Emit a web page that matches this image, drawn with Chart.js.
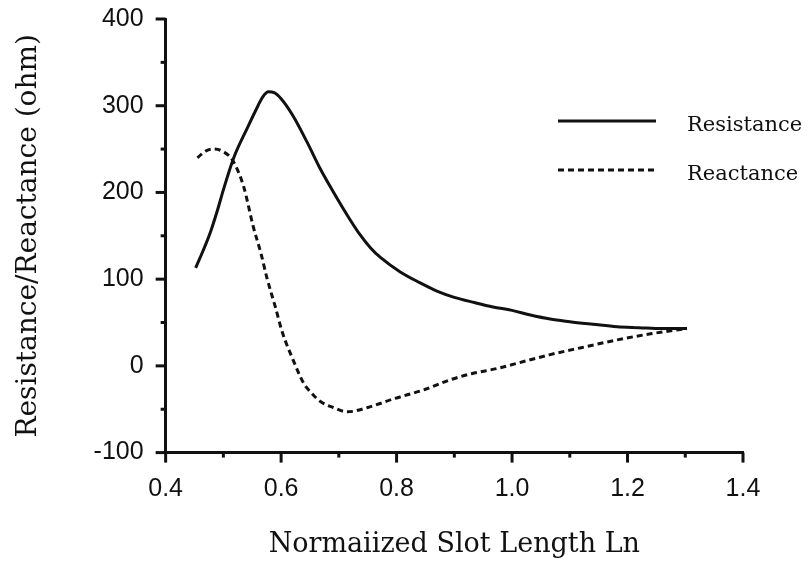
<!DOCTYPE html>
<html>
<head>
<meta charset="utf-8">
<script src="https://cdn.jsdelivr.net/npm/chart.js@4.4.1/dist/chart.umd.min.js"></script>
<style>
  html, body { margin: 0; padding: 0; background: #fff; }
  #wrap { width: 808px; height: 567px; position: relative; }
</style>
</head>
<body>
<div id="wrap"><canvas id="chart_slotImpedance"></canvas></div>
<script>
// values
var resistanceX = [0.452, 0.465, 0.478, 0.49, 0.50, 0.518, 0.542, 0.56, 0.568, 0.578, 0.588, 0.60, 0.62, 0.645, 0.668, 0.691, 0.72, 0.737, 0.755, 0.772, 0.807, 0.84, 0.871, 0.90, 0.935, 0.967, 1.0, 1.03, 1.066, 1.10, 1.14, 1.182, 1.22, 1.26, 1.303];
var resistanceY = [113, 133, 155, 180, 203, 240, 275, 300, 310, 316, 315, 308, 289, 258, 227, 200, 168, 151, 136, 125, 108, 96, 86, 79, 73, 68, 64, 59, 54, 51, 48, 45, 44, 43, 43];

var reactanceX = [0.455, 0.47, 0.483, 0.50, 0.516, 0.535, 0.552, 0.565, 0.576, 0.59, 0.602, 0.622, 0.639, 0.655, 0.668, 0.69, 0.715, 0.75, 0.795, 0.85, 0.893, 0.93, 0.974, 1.02, 1.066, 1.12, 1.182, 1.24, 1.303];
var reactanceY = [240, 248, 250, 247, 237, 207, 160, 130, 100, 68, 39, 5, -20, -33, -41, -48, -53, -48, -38, -27, -16, -9, -3, 5, 13, 21, 30, 37, 43];

var xTicksMajor = [0.4, 0.6, 0.8, 1.0, 1.2, 1.4];
var xTicksMinor = [0.5, 0.7, 0.9, 1.1, 1.3];
var yTicksMajor = [-100, 0, 100, 200, 300, 400];
var yTicksMinor = [-50, 50, 150, 250, 350];

var seriesLabels = ['Resistance', 'Reactance'];

function toPoints(xs, ys) {
    return xs.map(function (x, i) { return { x: x, y: ys[i] }; });
}

var serifFont = '"DejaVu Serif", "Liberation Serif", serif';
var sansFont = '"Liberation Sans", Arial, sans-serif';

var chart_slotImpedance = new Chart(document.getElementById('chart_slotImpedance'), {
    type: 'line',
    data: {
        datasets: [
            {
                label: seriesLabels[0],
                data: toPoints(resistanceX, resistanceY),
                borderColor: '#111',
                borderWidth: 3,
                pointRadius: 0,
                cubicInterpolationMode: 'monotone',
                fill: false
            },
            {
                label: seriesLabels[1],
                data: toPoints(reactanceX, reactanceY),
                borderColor: '#111',
                borderWidth: 3,
                borderDash: [6, 4],
                pointRadius: 0,
                cubicInterpolationMode: 'monotone',
                fill: false
            }
        ]
    },
    options: {
        animation: false,
        responsive: true,
        maintainAspectRatio: false,
        layout: {
            padding: { left: 10, right: 65, top: 19, bottom: 4 }
        },
        plugins: {
            legend: { display: false },
            tooltip: { enabled: false }
        },
        scales: {
            x: {
                type: 'linear',
                min: 0.4,
                max: 1.4,
                border: { color: '#111', width: 3 },
                grid: { drawOnChartArea: false, drawTicks: false },
                ticks: {
                    stepSize: 0.2,
                    padding: 22,
                    color: '#111',
                    font: { family: sansFont, size: 25 },
                    callback: function (v) { return v.toFixed(1); }
                },
                title: {
                    display: true,
                    text: 'Normaiized Slot Length Ln',
                    color: '#111',
                    font: { family: serifFont, size: 27 },
                    padding: { top: 2, bottom: 2 }
                }
            },
            y: {
                min: -100,
                max: 400,
                border: { color: '#111', width: 3 },
                grid: { drawOnChartArea: false, drawTicks: false },
                ticks: {
                    stepSize: 100,
                    padding: 22,
                    color: '#111',
                    font: { family: sansFont, size: 25 }
                },
                title: {
                    display: true,
                    text: 'Resistance/Reactance (ohm)',
                    color: '#111',
                    font: { family: serifFont, size: 28 },
                    padding: { top: 2, bottom: 26 }
                },
                afterFit: function (scale) {
                    // the top label may run into the page margin, as in the original
                    scale.paddingTop = 15;
                }
            }
        }
    },
    plugins: [{
        id: 'customPlugin',
        beforeDraw: (chart, args, options) => {
            const ctx = chart.canvas.getContext('2d');
            ctx.save();
            ctx.globalCompositeOperation = 'destination-over';
            ctx.fillStyle = 'white';
            ctx.fillRect(0, 0, chart.canvas.width, chart.canvas.height);
            ctx.restore();
        },
        afterDraw: (chart) => {
            const ctx = chart.ctx;
            const xs = chart.scales.x, ys = chart.scales.y;
            const area = chart.chartArea;
            ctx.save();
            ctx.strokeStyle = '#111';
            ctx.lineWidth = 3;
            // outward ticks, long for major and short for minor
            xTicksMajor.forEach(v => {
                const p = xs.getPixelForValue(v);
                ctx.beginPath(); ctx.moveTo(p, area.bottom); ctx.lineTo(p, area.bottom + 10); ctx.stroke();
            });
            xTicksMinor.forEach(v => {
                const p = xs.getPixelForValue(v);
                ctx.beginPath(); ctx.moveTo(p, area.bottom); ctx.lineTo(p, area.bottom + 5); ctx.stroke();
            });
            yTicksMajor.forEach(v => {
                const p = ys.getPixelForValue(v);
                ctx.beginPath(); ctx.moveTo(area.left, p); ctx.lineTo(area.left - 10, p); ctx.stroke();
            });
            yTicksMinor.forEach(v => {
                const p = ys.getPixelForValue(v);
                ctx.beginPath(); ctx.moveTo(area.left, p); ctx.lineTo(area.left - 5, p); ctx.stroke();
            });
            // legend
            const lx0 = 558, lx1 = 656, tx = 687;
            const rowsY = [121, 170];
            chart.data.datasets.forEach((ds, i) => {
                ctx.lineWidth = ds.borderWidth;
                ctx.strokeStyle = ds.borderColor;
                ctx.setLineDash(ds.borderDash || []);
                ctx.beginPath(); ctx.moveTo(lx0, rowsY[i]); ctx.lineTo(lx1, rowsY[i]); ctx.stroke();
                ctx.setLineDash([]);
                ctx.fillStyle = '#111';
                ctx.font = '21px ' + serifFont;
                ctx.textBaseline = 'alphabetic';
                ctx.textAlign = 'left';
                ctx.fillText(ds.label, tx, rowsY[i] + 10);
            });
            ctx.restore();
        }
    }]
});
</script>
</body>
</html>
